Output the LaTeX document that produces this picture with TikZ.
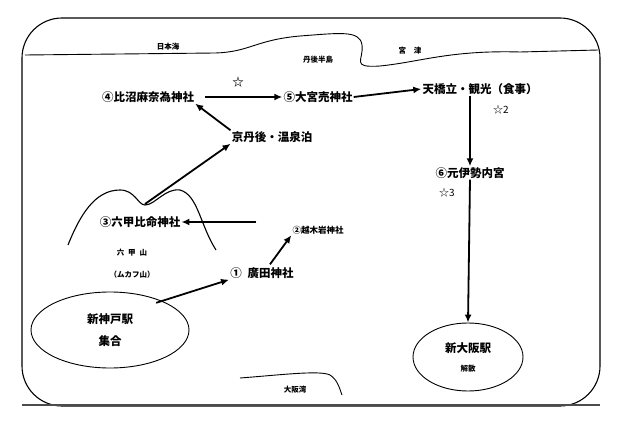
\documentclass[tikz,border=0pt]{standalone}
\usepackage{fontspec}
\setmainfont{Noto Sans CJK JP}
\usetikzlibrary{arrows.meta,shapes.geometric}
\begin{document}
\begin{tikzpicture}[x=1pt,y=-1pt,
  lbl/.style={font=\fontsize{11.5}{13}\selectfont\bfseries,inner sep=1pt},
  small/.style={font=\fontsize{7.5}{8}\selectfont\bfseries,inner sep=1pt},
  arr/.style={-{Latex[length=8pt,width=7pt]},line width=1.8pt},
  coast/.style={line width=0.9pt}]
\useasboundingbox (0,0) rectangle (619,428);
\draw[line width=1.1pt,rounded corners=40pt] (22,18) rectangle (600,406);
\draw[line width=1.6pt,gray!60!black] (22,405) -- (600,405);
% coasts
\draw[coast] (25,55) -- (215,53) .. controls (250,52) and (255,40) .. (300,36) .. controls (340,33) and (360,30) .. (362,45) .. controls (364,60) and (350,68) .. (380,66) .. controls (420,62) and (450,50) .. (520,52) -- (598,50);
\node[small] (sea) at (168,47) {日本海};
\node[small] (pen) at (318,60) {丹後半島};
\node[small] (miya) at (410,51) {宮\hspace{8pt}津};
\draw[coast] (240,378) .. controls (280,375) and (320,370) .. (330,375) .. controls (338,380) and (340,390) .. (342,395);
\node[small] (osaka) at (295,390) {大阪湾};
% mountain
\draw[line width=1.1pt] (68,245) .. controls (80,215) and (95,190) .. (120,190) .. controls (135,190) and (138,205) .. (145,205) .. controls (155,205) and (165,188) .. (180,190) .. controls (198,195) and (200,225) .. (216,250);
\node[small] (rk) at (132,253) {六\hspace{4pt}甲\hspace{4pt}山};
\node[small] (rk2) at (132,275) {（ムカフ山）};
\coordinate (peak) at (145,204);
% nodes
\node[lbl] (n4) at (148,97) {④比沼麻奈為神社};
\node[lbl] (star1) at (238,82) {☆};
\node[lbl] (n5) at (318,97) {⑤大宮売神社};
\node[lbl] (ama) at (480,89) {天橋立・観光（食事）};
\node[lbl,font=\fontsize{10}{11}\selectfont] (s2) at (501,110) {☆2};
\node[lbl] (kyo) at (272,137) {京丹後・温泉泊};
\node[lbl] (n6) at (470,173) {⑥元伊勢内宮};
\node[lbl,font=\fontsize{10}{11}\selectfont] (s3) at (447,193) {☆3};
\node[lbl] (n3) at (140,222) {③六甲比命神社};
\node[small,font=\fontsize{8.5}{9}\selectfont\bfseries] (n2) at (318,230) {②越木岩神社};
\node[lbl] (n1) at (262,273) {①\hspace{6pt}廣田神社};
\node[draw,ellipse,line width=0.9pt,minimum width=158pt,minimum height=76pt,align=center,font=\fontsize{11.5}{22}\selectfont\bfseries] (shin) at (110,330) {新神戸駅\\集合};
\node[draw,ellipse,line width=0.9pt,minimum width=110pt,minimum height=68pt,align=center,font=\fontsize{11.5}{19}\selectfont\bfseries] (osk) at (468,357) {新大阪駅\\{\fontsize{7.5}{8}\selectfont 解散}};
% arrows
\draw[arr] (kyo.north west) -- (n4.south east);
\draw[arr] (n4.east) ++(10,0) coordinate (a4) (a4) -- (n5.west);
\draw[arr] (n5.east) -- (ama.west);
\draw[arr] (ama.south) ++(-10,0) coordinate (a6) (a6) -- (n6.north);
\draw[arr] (n6.south) -- (osk.north);
\draw[arr] (peak) -- (kyo.south west);
\draw[arr] (n2.west) ++(-35,-8) coordinate (a2) (a2) -- (n3.east);
\draw[arr] (n1.north) ++(8,-2) coordinate (a1) (a1) -- (n2.south west);
\draw[arr] (shin.north east) ++(-10,0) coordinate (a0) (a0) -- (n1.south west);
\end{tikzpicture}
\end{document}
